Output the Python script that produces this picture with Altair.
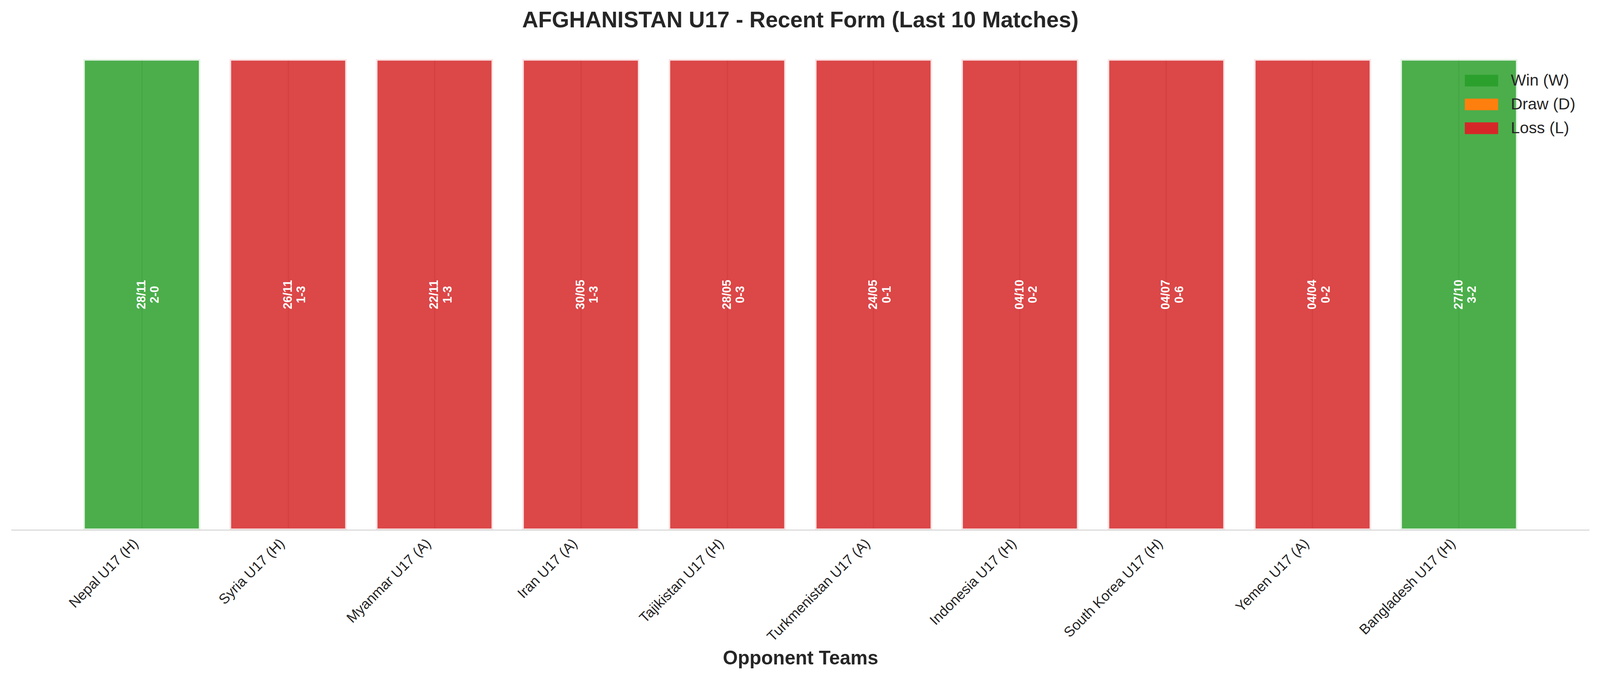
import altair as alt
import pandas as pd

title_text = "AFGHANISTAN U17 - Recent Form (Last 10 Matches)"
opponents = ["Nepal U17 (H)", "Syria U17 (H)", "Myanmar U17 (A)", "Iran U17 (A)",
             "Tajikistan U17 (H)", "Turkmenistan U17 (A)", "Indonesia U17 (H)",
             "South Korea U17 (H)", "Yemen U17 (A)", "Bangladesh U17 (H)"]
dates = ["28/11", "26/11", "22/11", "30/05", "28/05", "24/05", "04/10", "04/07", "04/04", "27/10"]
scores = ["2-0", "1-3", "1-3", "1-3", "0-3", "0-1", "0-2", "0-6", "0-2", "3-2"]
results = ["W", "L", "L", "L", "L", "L", "L", "L", "L", "W"]

result_names = {"W": "Win (W)", "D": "Draw (D)", "L": "Loss (L)"}
legend_domain = ["Win (W)", "Draw (D)", "Loss (L)"]
legend_colors = ["#2ca02c", "#ff7f0e", "#d62728"]

df = pd.DataFrame({
    "opponent": opponents,
    "date": dates,
    "score": scores,
    "result": [result_names[r] for r in results],
    "v": [1] * len(opponents),
})
df["label"] = df["date"] + "\n" + df["score"]

FONT = "Liberation Sans"
TXT = "#262626"
W, H = 4107, 1226

x_enc = alt.X(
    "opponent:N",
    sort=opponents,
    scale=alt.Scale(paddingInner=0.2, paddingOuter=0.49),
    axis=alt.Axis(
        title="Opponent Teams",
        titleFont=FONT, titleFontSize=50, titleFontWeight="bold", titleColor=TXT,
        titleY=349, titleBaseline="alphabetic",
        labelFont=FONT, labelFontSize=37, labelColor=TXT, labelLimit=0,
        labelAngle=-45, labelAlign="right", labelBaseline="middle",
        labelOffset=-15, labelPadding=29,
        ticks=False, tickSize=0, domain=False,
        grid=True, gridColor="#cccccc", gridWidth=3.5,
        bandPosition=0.5, zindex=0,
    ),
)
y_scale = alt.Scale(domain=[0, 1], nice=False, zero=True)

bars = alt.Chart(df).mark_bar(
    fillOpacity=0.85, stroke="white", strokeWidth=8, strokeOpacity=0.85
).encode(
    x=x_enc,
    y=alt.Y("v:Q", scale=y_scale, axis=None),
    color=alt.Color(
        "result:N",
        scale=alt.Scale(domain=legend_domain, range=legend_colors),
        legend=alt.Legend(
            title=None, orient="none", legendX=3783, legendY=35,
            symbolType="M-1,-0.35L1,-0.35L1,0.35L-1,0.35Z",
            symbolSize=7569, symbolStrokeWidth=0, symbolOpacity=1,
            clipHeight=42, rowPadding=20, labelOffset=33, labelLimit=0,
            labelFont=FONT, labelFontSize=42, labelColor=TXT, padding=0,
        ),
    ),
)

texts = alt.Chart(df).transform_calculate(mid="datum.v / 2").mark_text(
    angle=270, align="center", baseline="middle", lineBreak="\n",
    font=FONT, fontSize=31, fontWeight="bold", color="white", lineHeight=35,
).encode(
    x=alt.X("opponent:N", sort=opponents),
    y=alt.Y("mid:Q", scale=y_scale),
    text="label:N",
)

baseline = alt.Chart(df).mark_rule(color="#cccccc", strokeWidth=2).encode(
    x=alt.value(0), x2=alt.value(W), y=alt.datum(0)
)

title_df = pd.DataFrame({"t": [title_text]})
title = alt.Chart(title_df).mark_text(
    font=FONT, fontSize=58, fontWeight="bold", color=TXT,
    align="center", baseline="alphabetic",
).encode(x=alt.value(W / 2), y=alt.value(-83), text="t:N")

chart = alt.layer(bars, texts, baseline, title).properties(
    width=W, height=H,
    autosize=alt.AutoSizeParams(type="none"),
    padding={"left": 22, "top": 131, "right": 20, "bottom": 387},
).configure(background="white").configure_view(stroke=None)

chart.save("out.html", embed_options={"renderer": "svg", "actions": False})
